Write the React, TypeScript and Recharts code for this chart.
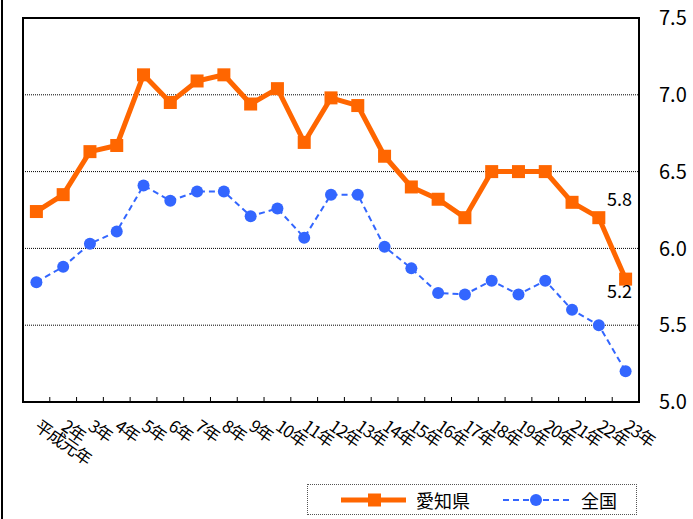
import React from "react"
import { LineChart, Line, XAxis, YAxis, CartesianGrid, LabelList } from "recharts"

const years = [
  "平成元年", "2年", "3年", "4年", "5年", "6年", "7年", "8年", "9年", "10年", "11年", "12年",
  "13年", "14年", "15年", "16年", "17年", "18年", "19年", "20年", "21年", "22年", "23年",
]
const aichi = [
  6.24, 6.35, 6.63, 6.67, 7.13, 6.95, 7.09, 7.13, 6.94, 7.04, 6.69, 6.98,
  6.93, 6.6, 6.4, 6.32, 6.2, 6.5, 6.5, 6.5, 6.3, 6.2, 5.8,
]
const zenkoku = [
  5.78, 5.88, 6.03, 6.11, 6.41, 6.31, 6.37, 6.37, 6.21, 6.26, 6.07, 6.35,
  6.35, 6.01, 5.87, 5.71, 5.7, 5.79, 5.7, 5.79, 5.6, 5.5, 5.2,
]
const yTicks = [5.0, 5.5, 6.0, 6.5, 7.0, 7.5]
const seriesNames = ["愛知県", "全国"]

const data = years.map((y, i) => ({ year: y, aichi: aichi[i], zenkoku: zenkoku[i] }))

const ORANGE = "#FF6600"
const BLUE = "#3366FF"
const FONT = "'Noto Sans CJK JP', 'Noto Sans', sans-serif"
const HALF_BAND = 616 / years.length / 2

const YearTick = (props: any) => {
  const { x, y, payload, index } = props
  const tx = x - 3
  const ty = y + 27
  return (
    <g>
      {index < years.length - 1 && (
        <line x1={x + HALF_BAND} x2={x + HALF_BAND} y1={y} y2={y - 5} stroke="#000" strokeWidth={1} />
      )}
      <text
        x={tx}
        y={ty}
        transform={`rotate(35, ${tx}, ${ty})`}
        textAnchor="start"
        fontSize={17}
        letterSpacing={-1}
        fontFamily={FONT}
        fill="#000"
      >
        {payload.value}
      </text>
    </g>
  )
}

const SquareDot = (props: any) => {
  const { cx, cy } = props
  if (cx == null || cy == null) return null
  return <rect x={cx - 6.5} y={cy - 6.5} width={13} height={13} fill={ORANGE} />
}

const lastLabel = (props: any) => {
  const { x, y, index, value } = props
  if (index !== years.length - 1) return null
  return (
    <text
      x={x - 6}
      y={y - 81}
      textAnchor="middle"
      dominantBaseline="central"
      fontSize={18}
      fontFamily={FONT}
      fill="#000"
    >
      {Number(value).toFixed(1)}
    </text>
  )
}

export default function App() {
  return (
    <div style={{ position: "absolute", left: 0, top: 0, width: 693, height: 519, background: "#fff", overflow: "hidden" }}>
      <div style={{ position: "absolute", left: 1, top: 0, width: 2, height: 519, background: "#000" }} />
      <LineChart width={693} height={519} data={data} margin={{ top: 18, right: 0, left: 23, bottom: 0 }}>
        <CartesianGrid horizontal vertical={false} stroke="#000" strokeDasharray="1 1" strokeWidth={1} />
        <XAxis
          dataKey="year"
          interval={0}
          height={117}
          padding={{ left: HALF_BAND, right: HALF_BAND }}
          tickSize={0}
          tickMargin={0}
          tickLine={false}
          axisLine={false}
          tick={<YearTick />}
        />
        <YAxis
          orientation="right"
          width={54}
          domain={[5, 7.5]}
          ticks={yTicks}
          tickFormatter={(v: number) => v.toFixed(1)}
          tickLine={false}
          axisLine={false}
          tickMargin={14}
          tick={{ fill: "#000", fontSize: 20, fontFamily: FONT }}
        />
        <Line
          dataKey="aichi"
          name={seriesNames[0]}
          stroke={ORANGE}
          strokeWidth={5}
          dot={<SquareDot />}
          isAnimationActive={false}
        >
          <LabelList dataKey="aichi" content={lastLabel} />
        </Line>
        <Line
          dataKey="zenkoku"
          name={seriesNames[1]}
          stroke={BLUE}
          strokeWidth={2}
          strokeDasharray="6 4"
          dot={{ r: 6, fill: BLUE, stroke: BLUE, strokeWidth: 0 }}
          isAnimationActive={false}
        >
          <LabelList dataKey="zenkoku" content={lastLabel} />
        </Line>
      </LineChart>
      <div
        style={{
          position: "absolute",
          left: 22,
          top: 17,
          width: 618,
          height: 386,
          border: "2px solid #000",
          boxSizing: "border-box",
          pointerEvents: "none",
        }}
      />
      <div
        style={{
          position: "absolute",
          left: 307,
          top: 484,
          width: 330,
          height: 31,
          border: "1px dotted #555",
          boxSizing: "border-box",
          fontFamily: FONT,
          fontSize: 18,
          color: "#000",
        }}
      >
        <svg width={330} height={31} style={{ position: "absolute", left: 0, top: 0 }}>
          <line x1={33} x2={98} y1={15} y2={15} stroke={ORANGE} strokeWidth={5} />
          <rect x={60} y={8.5} width={13} height={13} fill={ORANGE} />
          <text x={108} y={15} dominantBaseline="central" fontSize={18} fontFamily={FONT}>{seriesNames[0]}</text>
          <line x1={195} x2={261} y1={15} y2={15} stroke={BLUE} strokeWidth={2} strokeDasharray="6 4" />
          <circle cx={228} cy={15} r={6} fill={BLUE} />
          <text x={273} y={15} dominantBaseline="central" fontSize={18} fontFamily={FONT}>{seriesNames[1]}</text>
        </svg>
      </div>
    </div>
  )
}
